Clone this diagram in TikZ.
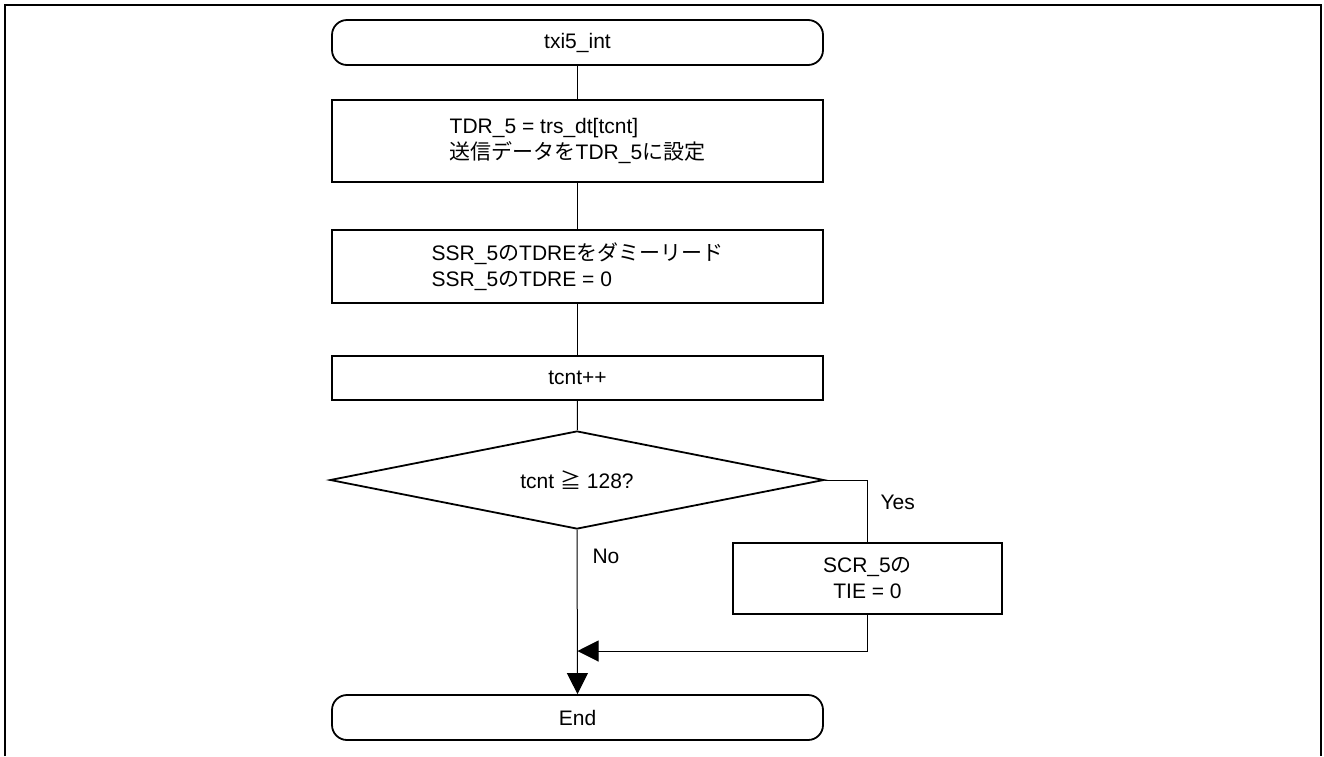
\documentclass[tikz,border=0pt]{standalone}
\usepackage{fontspec}
\setmainfont{Liberation Sans}
\newfontfamily\jp{Noto Sans CJK JP}
\usetikzlibrary{shapes.geometric,arrows.meta}

\tikzset{
	proc/.style={draw, line width=1.8pt, minimum width=491pt, inner sep=0pt, align=left},
	term/.style={draw, line width=1.8pt, rounded corners=15pt, minimum width=491pt, minimum height=45pt, inner sep=0pt},
	dec/.style={draw, diamond, aspect=5.04, line width=1.8pt, minimum width=494pt, minimum height=98pt, inner sep=0pt},
	flow/.style={line width=1pt},
	arr/.style={flow, -{Triangle[length=21pt, width=21pt]}}
}

\begin{document}
\begin{tikzpicture}[x=1pt, y=-1pt, font=\fontsize{21}{26}\selectfont]
	\useasboundingbox (0, 0) rectangle (1324, 756);
	\draw[line width=2pt] (5, 756)--(5, 5)--(1321, 5)--(1321, 756);
	\node[term] (start) at (577.5, 42.5) {txi5\_int};
	\node[proc, minimum height=82pt] (set) at (577.5, 141) {TDR\_5 = trs\_dt[tcnt]\\{\jp 送信データを}TDR\_5{\jp に設定}};
	\node[proc, minimum height=73pt] (read) at (577.5, 266.5) {SSR\_5{\jp の}TDRE{\jp をダミーリード}\\SSR\_5{\jp の}TDRE = 0};
	\node[proc, minimum height=44pt] (inc) at (577.5, 378) {tcnt++};
	\node[dec] (chk) at (577, 480) {tcnt {\jp ≧} 128?};
	\node[proc, align=center, minimum width=269pt, minimum height=71pt] (tie) at (867.5, 578.5) {SCR\_5{\jp の}\\TIE = 0};
	\node[term] (end) at (577.5, 717.5) {End};
	\coordinate (merge) at (577.5, 651);
	\draw[flow] (start)--(set);
	\draw[flow] (set)--(read);
	\draw[flow] (read)--(inc);
	\draw[flow] (inc)--(chk);
	\draw[flow] (chk.east) -| (tie.north);
	\draw[arr] (tie.south) |- (merge);
	\draw[arr] (chk.south)--(end.north);
	\node[anchor=west] (yes) at (877, 502) {Yes};
	\node[anchor=west] (no) at (589, 556) {No};
\end{tikzpicture}
\end{document}
